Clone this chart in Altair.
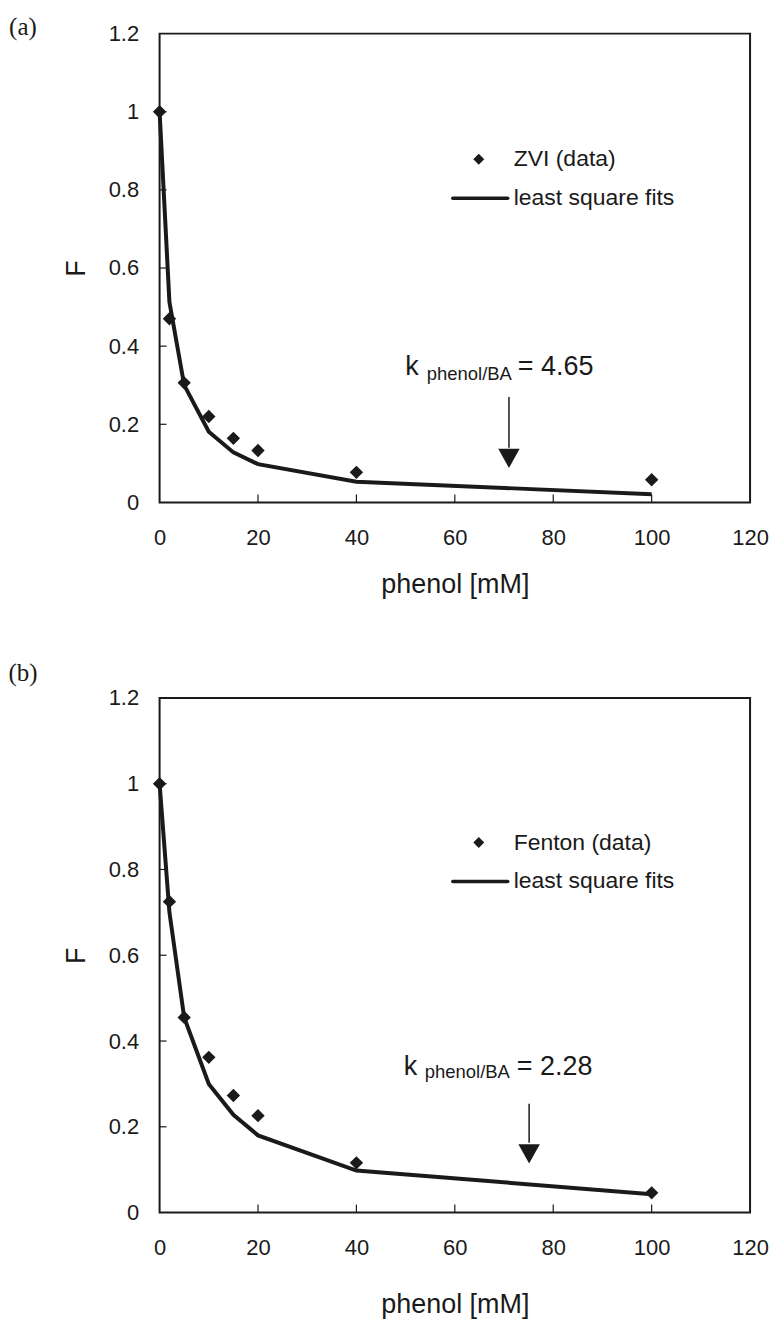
import altair as alt
import pandas as pd

# phenol concentrations (mM), common to both experiments
phenol_mM = [0, 2, 5, 10, 15, 20, 40, 100]

# (a) zero-valent iron: measured F and least-square fit
zvi_data = [1.0, 0.47, 0.306, 0.22, 0.164, 0.133, 0.077, 0.058]
zvi_fit = [1.0, 0.513, 0.300, 0.181, 0.128, 0.098, 0.053, 0.021]

# (b) Fenton: measured F and least-square fit
fenton_data = [1.0, 0.725, 0.455, 0.362, 0.273, 0.226, 0.116, 0.046]
fenton_fit = [1.0, 0.700, 0.455, 0.300, 0.228, 0.180, 0.098, 0.043]

series_names = ["ZVI (data)", "Fenton (data)"]
fit_name = "least square fits"
k_values = ["4.65", "2.28"]
panel_tags = ["(a)", "(b)"]

x_ticks = [0, 20, 40, 60, 80, 100, 120]
y_ticks = [0, 0.2, 0.4, 0.6, 0.8, 1.0, 1.2]

INK = "#1a1a1a"
SANS = "Liberation Sans"
SERIF = "Liberation Serif"
W = 592
ARROW_HEAD = "M-1,-0.9L1,-0.9L0,0.9Z"


def panel(tag, name, data_vals, fit_vals, k, height, title_y, legend_y,
          k_at, arrow_at, tag_y, anchor=False):
    df = pd.DataFrame({"phenol": phenol_mM, "F": data_vals, "fit": fit_vals})
    xs = alt.Scale(domain=[0, 120], nice=False, zero=False)
    ys = alt.Scale(domain=[0, 1.2], nice=False)
    x_axis = alt.Axis(values=x_ticks, title="phenol [mM]", titleY=title_y,
                      titleX=W / 2, titleBaseline="middle", titleAlign="center")
    y_axis = alt.Axis(values=y_ticks, title="F", format=".1~f", titleX=-83,
                      titleY=height / 2, titleBaseline="middle", titleAlign="center")

    def X(f):
        return alt.X(f, type="quantitative", scale=xs, axis=x_axis)

    def Y(f):
        return alt.Y(f, type="quantitative", scale=ys, axis=y_axis)

    base = alt.Chart(df)
    fit_line = base.mark_line(color=INK, strokeWidth=4, strokeJoin="miter").encode(
        x=X("phenol"), y=Y("fit"))
    points = base.mark_point(shape="diamond", filled=True, size=180, color=INK,
                             opacity=1).encode(x=X("phenol"), y=Y("F"))

    # inward tick marks
    xt = alt.Chart(pd.DataFrame({"t": x_ticks[1:-1]})).mark_rule(
        color=INK, strokeWidth=1.2).encode(
        x=X("t"), y=alt.value(height), y2=alt.value(height - 8))
    yt = alt.Chart(pd.DataFrame({"t": y_ticks[1:-1]})).mark_rule(
        color=INK, strokeWidth=1.2).encode(
        y=Y("t"), x=alt.value(0), x2=alt.value(7))

    # hand-drawn legend
    one = pd.DataFrame({"t": [name]})
    two = pd.DataFrame({"t": [fit_name]})
    leg_pt = alt.Chart(one).mark_point(shape="diamond", filled=True, size=120,
                                       color=INK, opacity=1).encode(
        x=alt.value(320), y=alt.value(legend_y[0]))
    leg_txt1 = alt.Chart(one).mark_text(align="left", baseline="middle", font=SANS,
                                        fontSize=23, color=INK).encode(
        x=alt.value(355), y=alt.value(legend_y[0]), text="t:N")
    leg_line = alt.Chart(two).mark_rule(color=INK, strokeWidth=3.5, strokeCap="round").encode(
        x=alt.value(294), x2=alt.value(349), y=alt.value(legend_y[1]))
    leg_txt2 = alt.Chart(two).mark_text(align="left", baseline="middle", font=SANS,
                                        fontSize=23, color=INK).encode(
        x=alt.value(355), y=alt.value(legend_y[1]), text="t:N")

    # rate-constant annotation: k with subscript, then the value
    ann = pd.DataFrame({
        "x": [k_at[0], k_at[1], k_at[2]],
        "y": [k_at[3], k_at[4], k_at[3]],
        "t": ["k", "phenol/BA", "= " + k],
        "s": ["big", "sub", "big"],
    })
    k_big = alt.Chart(ann).transform_filter("datum.s == 'big'").mark_text(
        align="left", baseline="alphabetic", font=SANS, fontSize=27, color=INK).encode(
        x=X("x"), y=Y("y"), text="t:N")
    k_sub = alt.Chart(ann).transform_filter("datum.s == 'sub'").mark_text(
        align="left", baseline="alphabetic", font=SANS, fontSize=18.5, color=INK).encode(
        x=X("x"), y=Y("y"), text="t:N")

    arr = pd.DataFrame({"x": [arrow_at[0]], "top": [arrow_at[1]],
                        "neck": [arrow_at[2]], "head": [arrow_at[3]]})
    shaft = alt.Chart(arr).mark_rule(color=INK, strokeWidth=1.5).encode(
        x=X("x"), y=Y("top"), y2="neck:Q")
    head = alt.Chart(arr).mark_point(shape=ARROW_HEAD, filled=True, size=460,
                                     color=INK, opacity=1).encode(x=X("x"), y=Y("head"))

    tag_mark = alt.Chart(pd.DataFrame({"t": [tag]})).mark_text(
        align="center", baseline="middle", font=SERIF, fontSize=25, color=INK).encode(
        x=alt.value(-137), y=alt.value(tag_y), text="t:N")

    layers = [fit_line, points, xt, yt, leg_pt, leg_txt1, leg_line, leg_txt2,
              k_big, k_sub, shaft, head, tag_mark]
    if anchor:
        corner = alt.Chart(pd.DataFrame({"a": [0]})).mark_rule(
            opacity=0, strokeWidth=0).encode(
            x=alt.value(-159), x2=alt.value(-150), y=alt.value(-31), y2=alt.value(-31))
        layers.append(corner)
    return alt.layer(*layers).properties(width=W, height=height)


panel_a = panel(panel_tags[0], series_names[0], zvi_data, zvi_fit, k_values[0],
                height=470, title_y=82, legend_y=(126, 165),
                k_at=(49.9, 54.3, 72.8, 0.325, 0.3145),
                arrow_at=(71.0, 0.27, 0.14, 0.113), tag_y=-7, anchor=True)
panel_b = panel(panel_tags[1], series_names[1], fenton_data, fenton_fit, k_values[1],
                height=516, title_y=92, legend_y=(145, 184),
                k_at=(49.6, 53.9, 72.6, 0.3216, 0.314),
                arrow_at=(75.1, 0.254, 0.163, 0.137), tag_y=-25)

chart = alt.vconcat(panel_a, panel_b, spacing=196, bounds="flush").properties(
    padding={"left": 0, "top": 0, "right": 5, "bottom": 5},
    background="white",
).configure_view(
    stroke=INK, strokeWidth=2
).configure_axis(
    domain=False, ticks=False, grid=False, labelFlush=False,
    labelFont=SANS, labelFontSize=22, labelColor=INK,
    titleFont=SANS, titleFontSize=27, titleFontWeight="normal", titleColor=INK,
).configure_axisX(
    labelPadding=25
).configure_axisY(
    labelPadding=21
)

chart.save("out.html", embed_options={"renderer": "svg", "actions": False})
